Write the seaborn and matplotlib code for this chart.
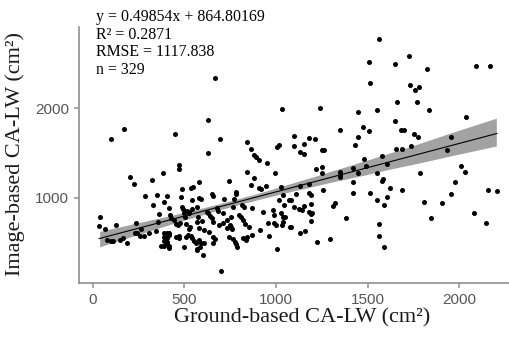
import matplotlib
matplotlib.use("Agg")
import matplotlib.pyplot as plt
import pandas as pd
import seaborn as sns

# ground-based vs image-based CA-LW (cm2)
ground = [102, 171, 449, 631, 693, 627, 1032, 840, 862, 880, 889, 909, 954, 1007, 1016,
          469, 471, 382, 202, 225, 326, 284, 327, 351, 389, 404, 364, 489, 480, 538,
          547, 578, 582, 540, 593, 571, 653, 658, 742, 714, 781, 780, 769, 844, 880,
          865, 909, 916, 947, 1025, 1040, 1073, 38, 34, 65, 129, 76, 102, 111, 147,
          164, 185, 234, 229, 244, 262, 256, 280, 307, 347, 358, 389, 404, 414, 389,
          407, 414, 375, 389, 404, 418, 418, 389, 407, 420, 425, 443, 453, 453, 471,
          473, 465, 476, 485, 495, 502, 498, 516, 525, 527, 509, 531, 527, 500, 507,
          520, 541, 538, 544, 552, 562, 567, 571, 580, 589, 585, 607, 604, 567, 576,
          582, 598, 607, 625, 629, 638, 653, 658, 636, 658, 665, 658, 680, 685, 709,
          711, 689, 698, 735, 735, 753, 747, 753, 762, 743, 765, 774, 780, 785, 765,
          816, 825, 798, 807, 822, 829, 822, 834, 844, 854, 867, 872, 911, 929, 958,
          961, 985, 992, 989, 998, 1005, 1018, 1029, 1040, 1038, 1031, 1076, 414, 996, 1043,
          667,
          1243, 1565, 1509, 1648, 1729, 1823, 1512, 1734, 1760, 1779, 1662, 1772, 1838, 1449, 1552,
          2092, 2167, 2039, 1348, 1478, 1509, 1648, 1683, 1701, 1450, 1756, 1776, 1098, 1178, 1216,
          1958,
          1101, 1152, 1130, 1152, 1253, 1261, 1429, 1479, 1580, 1656, 1689, 1738, 1934, 1221, 1253,
          1253, 1348, 1348, 1352, 1422, 1447, 1494, 1552, 1607, 1583, 1580, 1422, 1789, 2008, 2030,
          1979, 1130, 1179, 1107, 1179, 1194, 1258, 1422, 1512, 1625, 1689, 1607, 1552, 1592, 1956,
          2156, 2207, 1080, 1098, 1125, 1144, 1152, 1193, 1179, 1189, 1198, 1313, 1320, 1052, 1080,
          1194, 1381, 1810, 1907, 1847, 2083, 2147, 1130, 1161, 1225, 1294, 1563, 1563, 1592]
image = [1660, 1763, 1715, 1863, 1660, 1500, 1993, 1622, 1548, 1474, 1455, 1418, 1393, 1566, 1593,
         1363, 1326, 1282, 1230, 1152, 1200, 1022, 918, 1030, 955, 1022, 818, 1093, 1004, 1104,
         1115, 1171, 996, 974, 982, 893, 1041, 1022, 1182, 985, 1060, 1037, 982, 1293, 1226,
         1141, 1104, 1093, 1130, 1115, 1030, 974, 789, 685, 649, 696, 530, 515, 515, 530,
         555, 500, 722, 611, 604, 649, 574, 574, 604, 633, 733, 604, 604, 604, 566,
         555, 585, 466, 466, 482, 466, 437, 522, 511, 807, 771, 752, 707, 566, 574,
         555, 696, 715, 900, 871, 789, 826, 855, 844, 826, 707, 677, 649, 455, 566,
         585, 871, 574, 548, 522, 493, 430, 411, 530, 500, 455, 493, 363, 733, 789,
         660, 744, 641, 844, 826, 796, 771, 733, 622, 566, 537, 493, 882, 855, 826,
         722, 696, 178, 752, 660, 789, 696, 677, 649, 566, 544, 511, 482, 455, 900,
         918, 900, 807, 789, 752, 707, 548, 530, 560, 677, 585, 882, 641, 844, 722,
         574, 863, 807, 722, 696, 430, 974, 826, 789, 733, 696, 677, 882, 1271, 918,
         2333,
         2004, 2777, 2515, 2493, 2585, 2437, 2277, 2263, 2204, 2233, 2074, 2074, 1982, 1963, 1982,
         2474, 2466, 1907, 1760, 1785, 1744, 1852, 1760, 1752, 1677, 1715, 1677, 1685, 1671, 1660,
         1677,
         1582, 1596, 1511, 1488, 1537, 1530, 1585, 1437, 1463, 1544, 1544, 1574, 1537, 1326, 1344,
         1271, 1288, 1233, 1252, 1337, 1271, 1355, 1277, 1374, 1215, 1188, 1177, 1277, 1360, 1293,
         1177, 1130, 1152, 1041, 1049, 1030, 1088, 1049, 1049, 1111, 1088, 1004, 974, 918, 1041,
         1088, 1077, 974, 900, 874, 863, 907, 930, 844, 818, 826, 911, 937, 782, 677,
         741, 771, 955, 944, 774, 833, 715, 604, 633, 504, 541, 704, 577, 448]

xticks = [0, 500, 1000, 1500, 2000]
yticks = [1000, 2000]
stats_lines = ["y = 0.49854x + 864.80169", "R\u00b2 = 0.2871", "RMSE = 1117.838", "n = 329"]

df = pd.DataFrame({"ground": ground, "image": image})

sns.set_style("ticks")
W, H = 510, 346
fig = plt.figure(figsize=(W / 100, H / 100), dpi=100)
ax = fig.add_axes([79 / W, 1 - 283 / H, (517 - 79) / W, (283 - 27) / H])

sns.regplot(data=df, x="ground", y="image", ax=ax, ci=95, seed=1,
            scatter_kws={"s": 13, "color": "black", "alpha": 1, "linewidths": 0,
                         "zorder": 3},
            line_kws={"color": "black", "linewidth": 0.8, "zorder": 2})
band = ax.collections[-1]
band.set_facecolor("#a2a2a2")
band.set_alpha(1)
band.set_zorder(1)

ax.set_xlim(-75, 2316)
ax.set_ylim(48, 2907)
ax.set_xticks(xticks)
ax.set_yticks(yticks)
ax.set_xlabel("")
ax.set_ylabel("")

sns.despine(ax=ax)
for side in ["left", "bottom"]:
    ax.spines[side].set_color("#8f8f8f")
    ax.spines[side].set_linewidth(1.2)
ax.tick_params(colors="#8f8f8f", labelcolor="#555555", length=3.5, width=1.1,
               labelsize=11)
for lab in ax.get_xticklabels() + ax.get_yticklabels():
    lab.set_family("Liberation Sans")

serif = "Liberation Serif"
fig.text(302 / W, 1 - 318 / H, "Ground-based CA-LW (cm\u00b2)", family=serif,
         fontsize=16, ha="center", va="center", color="#1a1a1a")
fig.text(15 / W, 1 - 154 / H, "Image-based CA-LW (cm\u00b2)", family=serif,
         fontsize=16, ha="center", va="center", rotation=90, color="#1a1a1a")

for i, line in enumerate(stats_lines):
    fig.text(96 / W, 1 - (17 + 17.6 * i) / H, line, family=serif, fontsize=11.4,
             ha="left", va="center", color="black")

fig.savefig("out.png", dpi=100)
